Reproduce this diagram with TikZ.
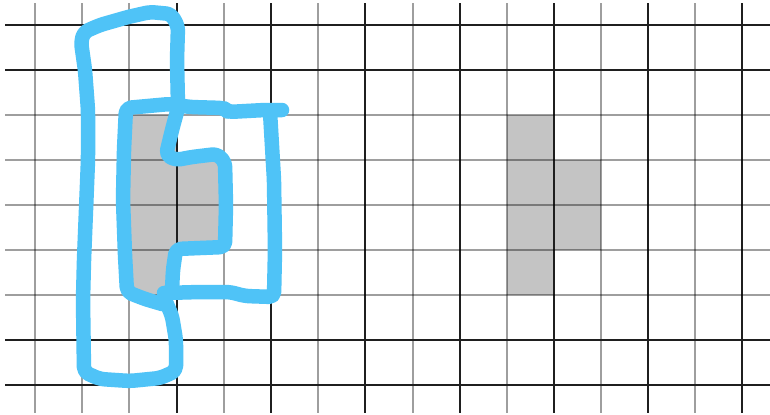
\documentclass[tikz,border=0pt]{standalone}
\usetikzlibrary{backgrounds}
\definecolor{inkblue}{HTML}{4FC3F7}
\definecolor{cellgray}{HTML}{C4C4C4}
\begin{document}
\begin{tikzpicture}[x=1bp,y=-1bp,
  darkline/.style={draw=black!88,line width=1.8bp},
  lightline/.style={draw=black,opacity=0.38,line width=1.8bp},
  cellfill/.style={fill=cellgray,draw=none},
  ink/.style={draw=inkblue,line width=14.5bp,line cap=round,line join=round,rounded corners=5bp}]
\useasboundingbox (0,0) rectangle (770,414);
\fill[white] (0,0) rectangle (770,414);
% shaded cells
\path[cellfill] (129,115) rectangle (177,295);
\path[cellfill] (177,160) rectangle (224,250);
\path[cellfill] (507,115) rectangle (554,295);
\path[cellfill] (554,160) rectangle (601,250);
% vertical grid lines
\foreach \x in {35,82,129,224,318,413,507,601,695}
  \draw[lightline] (\x,3) -- (\x,413);
\foreach \x in {177,271,365,460,554,648,742}
  \draw[darkline] (\x,3) -- (\x,413);
% horizontal grid lines
\foreach \y in {115,160,205,250,295}
  \draw[lightline] (5,\y) -- (770,\y);
\foreach \y in {25,70,340,385}
  \draw[darkline] (5,\y) -- (770,\y);
% blue strokes
\draw[ink] (178,106) -- (177,60) -- (178,26) -- (171,14) -- (150,12) -- (128,17)
  -- (100,25) -- (84,32) -- (81,42) -- (85,70) -- (88,110) -- (88,160)
  -- (86,210) -- (84,260) -- (83,300) -- (84,372) -- (100,379) -- (130,381)
  -- (160,378) -- (176,371) -- (176,340) -- (172,316) -- (166,302);
\draw[ink] (282,110) -- (265,110) -- (228,112) -- (224,108) -- (190,107)
  -- (170,104) -- (148,106) -- (126,108) -- (124,150) -- (123,200)
  -- (125,255) -- (127,292) -- (145,299) -- (162,304);
\draw[ink] (178,108) -- (172,130) -- (166,155) -- (176,160) -- (192,157)
  -- (217,154) -- (225,162) -- (226,205) -- (225,247) -- (200,248)
  -- (176,249) -- (173,270) -- (172,290);
\draw[ink] (164,293) -- (200,292) -- (230,292) -- (245,296) -- (274,297)
  -- (275,250) -- (274,180) -- (270,112);
\end{tikzpicture}
\end{document}
